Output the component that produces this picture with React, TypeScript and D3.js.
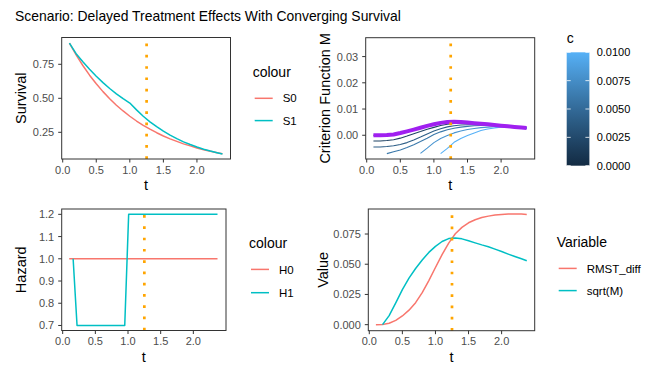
import React from 'react';
import * as d3 from 'd3';

// time grid shared by the survival / criterion / RMST panels
const tGrid = [0.1, 0.2, 0.3, 0.4, 0.5, 0.6, 0.7, 0.8, 0.9, 1.0, 1.1, 1.2, 1.3, 1.4, 1.5, 1.6, 1.7, 1.8, 1.9, 2.0, 2.1, 2.2, 2.3, 2.38];

const survS0 = [0.905, 0.819, 0.741, 0.670, 0.607, 0.549, 0.497, 0.449, 0.407, 0.368, 0.333, 0.301, 0.273, 0.247, 0.223, 0.202, 0.183, 0.165, 0.150, 0.135, 0.122, 0.111, 0.100, 0.093];
const survS1 = [0.905, 0.828, 0.768, 0.713, 0.662, 0.615, 0.572, 0.533, 0.497, 0.465, 0.415, 0.368, 0.327, 0.291, 0.258, 0.229, 0.203, 0.180, 0.160, 0.142, 0.126, 0.112, 0.100, 0.091];

const hazT0 = [0.1, 2.37];
const hazH0 = [1.0, 1.0];
const hazT1 = [0.16, 0.22, 0.95, 1.01, 2.37];
const hazH1 = [1.0, 0.7, 0.7, 1.2, 1.2];

// criterion function M (purple) and M for each penalty c
const critM = [0.0, 0.0, 0.00006, 0.00032, 0.00084, 0.00148, 0.00216, 0.00286, 0.0036, 0.0042, 0.00473, 0.00507, 0.00516, 0.00504, 0.00483, 0.00458, 0.00436, 0.00416, 0.0039, 0.00366, 0.00341, 0.00318, 0.00297, 0.0028];
const cLevels = [0, 0.002, 0.004, 0.006, 0.008, 0.01];
const mC000 = critM;
const mC002 = [-0.0022, -0.0022, -0.0020, -0.0017, -0.0011, -0.0003, 0.0006, 0.0014, 0.0023, 0.0030, 0.0037, 0.0042, 0.0045, 0.0046, 0.0045, 0.0044, 0.0042, 0.0040, 0.0038, 0.00362, 0.00339, 0.00317, 0.00296, 0.00279];
const mC004 = [-0.0045, -0.0045, -0.0043, -0.0040, -0.0035, -0.0028, -0.0018, -0.0007, 0.0005, 0.0016, 0.0025, 0.0032, 0.0036, 0.0039, 0.0040, 0.0040, 0.0040, 0.0039, 0.0037, 0.00355, 0.00336, 0.00315, 0.00295, 0.00278];
const mC006 = [null, null, -0.0070, -0.0063, -0.0056, -0.0047, -0.0036, -0.0024, -0.0011, 0.0003, 0.0013, 0.0021, 0.0027, 0.0031, 0.0034, 0.0036, 0.0037, 0.0037, 0.0036, 0.0035, 0.0033, 0.0031, 0.0029, 0.00277];
const mC008 = [null, null, null, null, null, null, null, -0.0069, -0.0049, -0.0028, -0.0012, -0.0001, 0.0009, 0.0016, 0.0022, 0.0026, 0.0029, 0.0031, 0.0033, 0.0033, 0.0032, 0.0031, 0.0029, 0.00277];
const mC010 = [null, null, null, null, null, null, null, null, null, null, -0.0070, -0.0050, -0.0027, -0.0012, -0.0001, 0.0009, 0.0018, 0.0024, 0.0028, 0.0031, 0.0032, 0.0031, 0.0029, 0.00277];
const mByC = [mC000, mC002, mC004, mC006, mC008, mC010];

const rmstDiff = [0, 0.0002, 0.0012, 0.0035, 0.0072, 0.012, 0.0182, 0.0265, 0.0365, 0.0473, 0.058, 0.0675, 0.0752, 0.0805, 0.0843, 0.0868, 0.0886, 0.0898, 0.0907, 0.0912, 0.0915, 0.0916, 0.0915, 0.0912];
const sqrtM = [null, 0, 0.0075, 0.018, 0.029, 0.0385, 0.0465, 0.0535, 0.0598, 0.0648, 0.0688, 0.0712, 0.0718, 0.071, 0.0695, 0.0677, 0.066, 0.0645, 0.0625, 0.0605, 0.0584, 0.0564, 0.0545, 0.0529];

const tStar = 1.25;
const xTicks = [0, 0.5, 1.0, 1.5, 2.0];
const survTicks = [0.25, 0.5, 0.75];
const critTicks = [0, 0.01, 0.02, 0.03];
const hazTicks = [0.7, 0.8, 0.9, 1.0, 1.1, 1.2];
const valTicks = [0, 0.025, 0.05, 0.075];
const cbarTicks = [0, 0.0025, 0.005, 0.0075, 0.01];

const FONT = '"Liberation Sans", Arial, Helvetica, sans-serif';
const RED = '#F8766D';
const CYAN = '#00BFC4';
const ORANGE = '#FFA500';
const PURPLE = '#A020F0';
const cColor = d3.scaleLinear<string>().domain([0, 0.01]).range(['#132B43', '#56B1F7']).interpolate(d3.interpolateLab);

type Series = { t: number[]; v: (number | null)[]; color: string; width: number };
type Box = { x0: number; x1: number; y0: number; y1: number };

function Panel(props: {
  box: Box; yDomain: [number, number]; yTicks: number[]; yFmt: (d: number) => string;
  yTitle: string; yTitleX: number; series: Series[];
}) {
  const { box, yDomain, yTicks, yFmt, yTitle, yTitleX, series } = props;
  const x = d3.scaleLinear().domain([-0.015, 2.5]).range([box.x0, box.x1]);
  const y = d3.scaleLinear().domain(yDomain).range([box.y1, box.y0]);
  const line = d3.line<[number, number | null]>()
    .defined(d => d[1] != null)
    .x(d => x(d[0]))
    .y(d => y(d[1] as number));
  const midY = (box.y0 + box.y1) / 2;
  return (
    <g>
      {series.map((s, i) => (
        <path key={i} d={line(s.t.map((t, j) => [t, s.v[j]])) || ''} fill="none"
          stroke={s.color} strokeWidth={s.width} strokeLinejoin="round" strokeLinecap="butt" />
      ))}
      <line x1={x(tStar)} x2={x(tStar)} y1={box.y1} y2={box.y0} stroke={ORANGE}
        strokeWidth={2.7} strokeDasharray="2.7 8.57" />
      <rect x={box.x0} y={box.y0} width={box.x1 - box.x0} height={box.y1 - box.y0}
        fill="none" stroke="#333333" strokeWidth={1} />
      {xTicks.map(t => (
        <g key={t}>
          <line x1={x(t)} x2={x(t)} y1={box.y1} y2={box.y1 + 3.5} stroke="#333333" />
          <text x={x(t)} y={box.y1 + 14.5} textAnchor="middle" fontSize={11} fill="#4D4D4D">{t.toFixed(1)}</text>
        </g>
      ))}
      {yTicks.map(v => (
        <g key={v}>
          <line x1={box.x0 - 3.5} x2={box.x0} y1={y(v)} y2={y(v)} stroke="#333333" />
          <text x={box.x0 - 7.5} y={y(v)} dy="0.36em" textAnchor="end" fontSize={11} fill="#4D4D4D">{yFmt(v)}</text>
        </g>
      ))}
      <text x={(box.x0 + box.x1) / 2} y={box.y1 + 31} textAnchor="middle" fontSize={14.5} fill="#000">t</text>
      <text transform={`translate(${yTitleX},${midY}) rotate(-90)`} textAnchor="middle" fontSize={14.5} fill="#000">{yTitle}</text>
    </g>
  );
}

function LineLegend(props: { title: string; x: number; y: number; keys: { label: string; color: string }[]; step: number }) {
  const { title, x, y, keys, step } = props;
  return (
    <g>
      <text x={x} y={y} fontSize={14} fill="#000">{title}</text>
      {keys.map((k, i) => (
        <g key={k.label}>
          <line x1={x + 2} x2={x + 20} y1={y + 21 + i * step} y2={y + 21 + i * step} stroke={k.color} strokeWidth={1.5} />
          <text x={x + 30} y={y + 21 + i * step} dy="0.36em" fontSize={11.5} fill="#000">{k.label}</text>
        </g>
      ))}
    </g>
  );
}

function ColourBar() {
  const bx = 566.7, by = 52.3, bw = 22.7, bh = 113.4;
  const cy = d3.scaleLinear().domain([0, 0.01]).range([by + bh, by]);
  const stops = d3.range(0, 1.0001, 0.1);
  return (
    <g>
      <defs>
        <linearGradient id="cgrad" x1="0" y1="1" x2="0" y2="0">
          {stops.map(s => <stop key={s} offset={s} stopColor={cColor(s * 0.01)} />)}
        </linearGradient>
      </defs>
      <text x={bx} y={42.7} fontSize={14} fill="#000">c</text>
      <rect x={bx} y={by} width={bw} height={bh} fill="url(#cgrad)" />
      {cbarTicks.map(v => (
        <g key={v}>
          <line x1={bx} x2={bx + 4} y1={cy(v)} y2={cy(v)} stroke="#fff" strokeOpacity={0.8} />
          <line x1={bx + bw - 4} x2={bx + bw} y1={cy(v)} y2={cy(v)} stroke="#fff" strokeOpacity={0.8} />
          <text x={bx + 30} y={cy(v)} dy="0.36em" fontSize={11} fill="#000">{v.toFixed(4)}</text>
        </g>
      ))}
    </g>
  );
}

export default function App() {
  const critSeries: Series[] = mByC.map((v, i) => ({ t: tGrid, v, color: cColor(cLevels[i]), width: 1.1 }));
  critSeries.push({ t: tGrid, v: critM, color: PURPLE, width: 4 });

  return (
    <svg width={664} height={380} style={{ position: 'absolute', left: 0, top: 0, background: '#fff', fontFamily: FONT }}>
      <text x={15} y={20.7} fontSize={13.9} fill="#000">Scenario: Delayed Treatment Effects With Converging Survival</text>

      <Panel box={{ x0: 61.7, x1: 230.5, y0: 37.5, y1: 159 }} yDomain={[0.0537, 0.947]} yTicks={survTicks}
        yFmt={d => d.toFixed(2)} yTitle="Survival" yTitleX={26}
        series={[
          { t: tGrid, v: survS0, color: RED, width: 1.5 },
          { t: tGrid, v: survS1, color: CYAN, width: 1.5 },
        ]} />
      <LineLegend title="colour" x={252.7} y={77.3} step={22.3}
        keys={[{ label: 'S0', color: RED }, { label: 'S1', color: CYAN }]} />

      <Panel box={{ x0: 365.7, x1: 534.7, y0: 37.7, y1: 159 }} yDomain={[-0.00905, 0.0372]} yTicks={critTicks}
        yFmt={d => d.toFixed(2)} yTitle="Criterion Function M" yTitleX={330}
        series={critSeries} />
      <ColourBar />

      <Panel box={{ x0: 61.7, x1: 226, y0: 209, y1: 330.5 }} yDomain={[0.6774, 1.224]} yTicks={hazTicks}
        yFmt={d => d.toFixed(1)} yTitle="Hazard" yTitleX={26}
        series={[
          { t: hazT0, v: hazH0, color: RED, width: 1.5 },
          { t: hazT1, v: hazH1, color: CYAN, width: 1.5 },
        ]} />
      <LineLegend title="colour" x={249} y={248.4} step={23.3}
        keys={[{ label: 'H0', color: RED }, { label: 'H1', color: CYAN }]} />

      <Panel box={{ x0: 368.3, x1: 534.7, y0: 209, y1: 330.7 }} yDomain={[-0.005, 0.0957]} yTicks={valTicks}
        yFmt={d => d.toFixed(3)} yTitle="Value" yTitleX={328}
        series={[
          { t: tGrid, v: rmstDiff, color: RED, width: 1.5 },
          { t: tGrid, v: sqrtM, color: CYAN, width: 1.5 },
        ]} />
      <LineLegend title="Variable" x={556.7} y={247.4} step={22.2}
        keys={[{ label: 'RMST_diff', color: RED }, { label: 'sqrt(M)', color: CYAN }]} />
    </svg>
  );
}
